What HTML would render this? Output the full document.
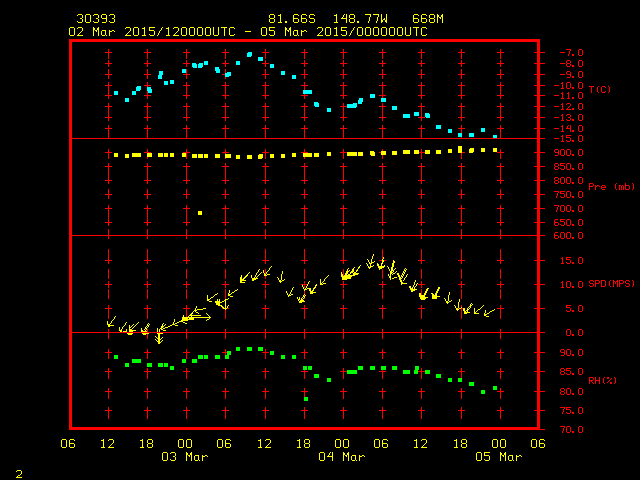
<!DOCTYPE html>
<html><head><meta charset="utf-8"><title>Meteogram 30393</title>
<style>
html,body{margin:0;padding:0;background:#000;width:640px;height:480px;overflow:hidden;}
svg{display:block;}
</style></head>
<body>
<svg width="640" height="480" viewBox="0 0 640 480" shape-rendering="crispEdges">
<rect x="0" y="0" width="640" height="480" fill="#000"/>
<path fill="#ff0000" d="M69 39h471v3h-471zM579 49h3v1h-3zM566 49h5v1h-5zM570 50h1v1h-1zM537 42h3v10h-3zM225 49h1v3h-1zM421 49h1v3h-1zM343 49h1v3h-1zM461 49h1v3h-1zM108 49h1v3h-1zM382 49h1v3h-1zM500 49h1v3h-1zM147 49h1v3h-1zM186 49h1v3h-1zM265 49h1v3h-1zM304 49h1v3h-1zM458 52h7v1h-7zM534 52h11v1h-11zM301 52h7v1h-7zM379 52h7v1h-7zM222 52h7v1h-7zM418 52h7v1h-7zM497 52h7v1h-7zM144 52h7v1h-7zM340 52h7v1h-7zM183 52h7v1h-7zM262 52h7v1h-7zM105 52h7v1h-7zM560 52h5v1h-5zM569 51h1v3h-1zM582 50h1v5h-1zM578 50h1v5h-1zM572 54h2v2h-2zM568 54h1v2h-1zM579 55h3v1h-3zM225 53h1v6h-1zM421 53h1v6h-1zM343 53h1v6h-1zM461 53h1v6h-1zM108 53h1v6h-1zM382 53h1v6h-1zM500 53h1v6h-1zM147 53h1v6h-1zM186 53h1v6h-1zM265 53h1v6h-1zM304 53h1v6h-1zM579 60h3v1h-3zM567 60h3v1h-3zM537 53h3v10h-3zM225 60h1v3h-1zM421 60h1v3h-1zM343 60h1v3h-1zM461 60h1v3h-1zM108 60h1v3h-1zM382 60h1v3h-1zM500 60h1v3h-1zM147 60h1v3h-1zM186 60h1v3h-1zM265 60h1v3h-1zM304 60h1v3h-1zM570 61h1v2h-1zM566 61h1v2h-1zM458 63h7v1h-7zM534 63h11v1h-11zM301 63h7v1h-7zM379 63h7v1h-7zM222 63h7v1h-7zM418 63h7v1h-7zM567 63h3v1h-3zM497 63h7v1h-7zM144 63h7v1h-7zM340 63h7v1h-7zM183 63h7v1h-7zM262 63h7v1h-7zM105 63h7v1h-7zM560 63h5v1h-5zM582 61h1v5h-1zM578 61h1v5h-1zM570 64h1v2h-1zM566 64h1v2h-1zM225 64h1v3h-1zM421 64h1v3h-1zM343 64h1v3h-1zM461 64h1v3h-1zM108 64h1v3h-1zM382 64h1v3h-1zM500 64h1v3h-1zM147 64h1v3h-1zM186 64h1v3h-1zM265 64h1v3h-1zM304 64h1v3h-1zM572 65h2v2h-2zM579 66h3v1h-3zM567 66h3v1h-3zM579 71h3v1h-3zM567 71h3v1h-3zM225 69h1v4h-1zM537 64h3v10h-3zM421 69h1v5h-1zM343 69h1v5h-1zM461 69h1v5h-1zM108 69h1v5h-1zM382 69h1v5h-1zM500 69h1v5h-1zM147 69h1v5h-1zM186 69h1v5h-1zM265 69h1v5h-1zM304 69h1v5h-1zM570 72h1v2h-1zM566 72h1v2h-1zM567 74h4v1h-4zM458 74h7v1h-7zM534 74h11v1h-11zM301 74h7v1h-7zM379 74h7v1h-7zM418 74h7v1h-7zM497 74h7v1h-7zM144 74h7v1h-7zM105 74h7v1h-7zM183 74h7v1h-7zM340 74h7v1h-7zM262 74h7v1h-7zM222 74h3v1h-3zM560 74h5v1h-5zM582 72h1v5h-1zM578 72h1v5h-1zM570 75h1v2h-1zM572 76h2v2h-2zM579 77h3v1h-3zM567 77h3v1h-3zM421 75h1v4h-1zM343 75h1v4h-1zM461 75h1v4h-1zM108 75h1v4h-1zM382 75h1v4h-1zM500 75h1v4h-1zM147 75h1v4h-1zM186 75h1v4h-1zM265 75h1v4h-1zM304 75h1v4h-1zM225 77h1v2h-1zM579 82h3v1h-3zM567 82h3v1h-3zM562 82h1v1h-1zM561 83h2v1h-2zM537 75h3v10h-3zM225 82h1v3h-1zM421 82h1v3h-1zM343 82h1v3h-1zM461 82h1v3h-1zM108 82h1v3h-1zM382 82h1v3h-1zM500 82h1v3h-1zM147 82h1v3h-1zM186 82h1v3h-1zM265 82h1v3h-1zM304 82h1v3h-1zM222 85h7v1h-7zM497 85h7v1h-7zM144 85h7v1h-7zM554 85h5v1h-5zM379 85h7v1h-7zM301 85h7v1h-7zM458 85h7v1h-7zM183 85h7v1h-7zM105 85h7v1h-7zM534 85h11v1h-11zM418 85h7v1h-7zM340 85h7v1h-7zM262 85h7v1h-7zM608 86h1v1h-1zM602 86h3v1h-3zM147 86h1v1h-1zM589 86h5v1h-5zM598 86h1v1h-1zM570 83h1v5h-1zM582 83h1v5h-1zM566 83h1v5h-1zM578 83h1v5h-1zM562 84h1v4h-1zM605 87h1v1h-1zM572 87h2v2h-2zM579 88h3v1h-3zM561 88h3v1h-3zM567 88h3v1h-3zM304 86h1v4h-1zM609 87h1v5h-1zM601 87h1v5h-1zM597 87h1v5h-1zM605 91h1v1h-1zM591 87h1v6h-1zM562 92h1v1h-1zM579 92h3v1h-3zM608 92h1v1h-1zM602 92h3v1h-3zM568 92h1v1h-1zM598 92h1v1h-1zM561 93h2v1h-2zM567 93h2v1h-2zM537 86h3v9h-3zM186 86h1v9h-1zM461 86h1v9h-1zM108 86h1v9h-1zM265 86h1v9h-1zM421 86h1v9h-1zM343 86h1v9h-1zM500 86h1v9h-1zM225 86h1v9h-1zM382 86h1v9h-1zM147 91h1v4h-1zM304 94h1v1h-1zM458 95h7v1h-7zM534 95h11v1h-11zM301 95h7v1h-7zM379 95h7v1h-7zM222 95h7v1h-7zM418 95h7v1h-7zM554 95h5v1h-5zM497 95h7v1h-7zM144 95h7v1h-7zM340 95h7v1h-7zM183 95h7v1h-7zM262 95h7v1h-7zM105 95h7v1h-7zM582 93h1v5h-1zM578 93h1v5h-1zM568 94h1v4h-1zM562 94h1v4h-1zM382 96h1v2h-1zM225 96h1v3h-1zM421 96h1v3h-1zM343 96h1v3h-1zM461 96h1v3h-1zM108 96h1v3h-1zM500 96h1v3h-1zM147 96h1v3h-1zM186 96h1v3h-1zM265 96h1v3h-1zM304 96h1v3h-1zM572 97h2v2h-2zM561 98h3v1h-3zM579 98h3v1h-3zM567 98h3v1h-3zM579 103h3v1h-3zM567 103h3v1h-3zM562 103h1v1h-1zM566 104h1v1h-1zM561 104h2v1h-2zM537 96h3v10h-3zM225 103h1v3h-1zM421 103h1v3h-1zM343 103h1v3h-1zM461 103h1v3h-1zM108 103h1v3h-1zM382 103h1v3h-1zM500 103h1v3h-1zM147 103h1v3h-1zM186 103h1v3h-1zM265 103h1v3h-1zM304 103h1v3h-1zM570 104h1v2h-1zM458 106h7v1h-7zM534 106h11v1h-11zM301 106h7v1h-7zM379 106h7v1h-7zM222 106h7v1h-7zM418 106h7v1h-7zM554 106h5v1h-5zM497 106h7v1h-7zM144 106h7v1h-7zM340 106h7v1h-7zM183 106h7v1h-7zM262 106h7v1h-7zM569 106h1v1h-1zM105 106h7v1h-7zM568 107h1v1h-1zM582 104h1v5h-1zM578 104h1v5h-1zM562 105h1v4h-1zM567 108h1v1h-1zM572 108h2v2h-2zM561 109h3v1h-3zM579 109h3v1h-3zM566 109h5v1h-5zM579 114h3v1h-3zM567 114h3v1h-3zM562 114h1v1h-1zM566 115h1v1h-1zM561 115h2v1h-2zM225 107h1v10h-1zM421 107h1v10h-1zM343 107h1v10h-1zM461 107h1v10h-1zM108 107h1v10h-1zM382 107h1v10h-1zM537 107h3v10h-3zM500 107h1v10h-1zM147 107h1v10h-1zM186 107h1v10h-1zM265 107h1v10h-1zM304 107h1v10h-1zM570 115h1v2h-1zM568 117h2v1h-2zM458 117h7v1h-7zM534 117h11v1h-11zM301 117h7v1h-7zM379 117h7v1h-7zM222 117h7v1h-7zM418 117h7v1h-7zM554 117h5v1h-5zM497 117h7v1h-7zM144 117h7v1h-7zM340 117h7v1h-7zM183 117h7v1h-7zM262 117h7v1h-7zM105 117h7v1h-7zM582 115h1v5h-1zM578 115h1v5h-1zM562 116h1v4h-1zM570 118h1v2h-1zM566 119h1v1h-1zM225 118h1v3h-1zM421 118h1v3h-1zM343 118h1v3h-1zM461 118h1v3h-1zM108 118h1v3h-1zM382 118h1v3h-1zM500 118h1v3h-1zM147 118h1v3h-1zM186 118h1v3h-1zM265 118h1v3h-1zM304 118h1v3h-1zM572 119h2v2h-2zM561 120h3v1h-3zM579 120h3v1h-3zM567 120h3v1h-3zM579 125h3v1h-3zM568 125h1v1h-1zM562 125h1v1h-1zM561 126h2v1h-2zM537 118h3v10h-3zM570 125h1v3h-1zM225 125h1v3h-1zM421 125h1v3h-1zM343 125h1v3h-1zM461 125h1v3h-1zM108 125h1v3h-1zM382 125h1v3h-1zM500 125h1v3h-1zM147 125h1v3h-1zM186 125h1v3h-1zM265 125h1v3h-1zM304 125h1v3h-1zM567 126h1v2h-1zM458 128h7v1h-7zM534 128h11v1h-11zM301 128h7v1h-7zM379 128h7v1h-7zM222 128h7v1h-7zM418 128h7v1h-7zM554 128h5v1h-5zM497 128h7v1h-7zM144 128h7v1h-7zM340 128h7v1h-7zM183 128h7v1h-7zM262 128h7v1h-7zM105 128h7v1h-7zM566 128h5v1h-5zM582 126h1v5h-1zM578 126h1v5h-1zM562 127h1v4h-1zM570 129h1v3h-1zM572 130h2v2h-2zM561 131h3v1h-3zM579 131h3v1h-3zM461 129h1v4h-1zM579 135h3v1h-3zM562 135h1v1h-1zM566 135h5v1h-5zM566 136h1v1h-1zM561 136h2v1h-2zM69 42h3v96h-3zM225 129h1v9h-1zM421 129h1v9h-1zM343 129h1v9h-1zM108 129h1v9h-1zM382 129h1v9h-1zM537 129h3v9h-3zM500 129h1v9h-1zM147 129h1v9h-1zM186 129h1v9h-1zM265 129h1v9h-1zM304 129h1v9h-1zM566 137h4v1h-4zM461 137h1v1h-1zM69 138h476v1h-476zM554 138h5v1h-5zM582 136h1v5h-1zM578 136h1v5h-1zM562 137h1v4h-1zM570 138h1v3h-1zM566 140h1v1h-1zM572 140h2v2h-2zM561 141h3v1h-3zM567 141h3v1h-3zM579 141h3v1h-3zM555 149h3v1h-3zM561 149h3v1h-3zM579 149h3v1h-3zM567 149h3v1h-3zM382 149h1v2h-1zM537 139h3v13h-3zM225 149h1v3h-1zM421 149h1v3h-1zM343 149h1v3h-1zM108 149h1v3h-1zM500 149h1v3h-1zM147 149h1v3h-1zM186 149h1v3h-1zM265 149h1v3h-1zM304 149h1v3h-1zM558 150h1v2h-1zM554 150h1v2h-1zM379 152h2v1h-2zM222 152h7v1h-7zM497 152h7v1h-7zM144 152h7v1h-7zM419 152h6v1h-6zM301 152h7v1h-7zM183 152h7v1h-7zM105 152h7v1h-7zM555 152h4v1h-4zM462 152h3v1h-3zM534 152h11v1h-11zM340 152h7v1h-7zM262 152h7v1h-7zM225 153h1v1h-1zM570 150h1v5h-1zM566 150h1v5h-1zM582 150h1v5h-1zM578 150h1v5h-1zM564 150h1v5h-1zM560 150h1v5h-1zM558 153h1v2h-1zM572 154h2v2h-2zM555 155h3v1h-3zM561 155h3v1h-3zM579 155h3v1h-3zM567 155h3v1h-3zM421 153h1v6h-1zM343 153h1v6h-1zM461 153h1v6h-1zM108 153h1v6h-1zM500 153h1v6h-1zM186 153h1v6h-1zM265 153h1v6h-1zM382 155h1v4h-1zM147 157h1v2h-1zM304 157h1v2h-1zM225 158h1v1h-1zM555 163h3v1h-3zM579 163h3v1h-3zM567 163h3v1h-3zM560 163h5v1h-5zM560 164h1v1h-1zM537 153h3v13h-3zM225 163h1v3h-1zM421 163h1v3h-1zM343 163h1v3h-1zM461 163h1v3h-1zM108 163h1v3h-1zM382 163h1v3h-1zM500 163h1v3h-1zM147 163h1v3h-1zM186 163h1v3h-1zM265 163h1v3h-1zM304 163h1v3h-1zM558 164h1v2h-1zM554 164h1v2h-1zM560 165h4v1h-4zM555 166h3v1h-3zM222 166h7v1h-7zM497 166h7v1h-7zM144 166h7v1h-7zM379 166h7v1h-7zM301 166h7v1h-7zM458 166h7v1h-7zM183 166h7v1h-7zM105 166h7v1h-7zM534 166h11v1h-11zM418 166h7v1h-7zM340 166h7v1h-7zM262 166h7v1h-7zM570 164h1v5h-1zM566 164h1v5h-1zM582 164h1v5h-1zM578 164h1v5h-1zM564 166h1v3h-1zM558 167h1v2h-1zM554 167h1v2h-1zM560 168h1v1h-1zM572 168h2v2h-2zM555 169h3v1h-3zM561 169h3v1h-3zM579 169h3v1h-3zM567 169h3v1h-3zM555 177h3v1h-3zM561 177h3v1h-3zM579 177h3v1h-3zM567 177h3v1h-3zM537 167h3v13h-3zM186 167h1v13h-1zM461 167h1v13h-1zM108 167h1v13h-1zM265 167h1v13h-1zM421 167h1v13h-1zM343 167h1v13h-1zM500 167h1v13h-1zM147 167h1v13h-1zM225 167h1v13h-1zM382 167h1v13h-1zM304 167h1v13h-1zM558 178h1v2h-1zM554 178h1v2h-1zM555 180h3v1h-3zM222 180h7v1h-7zM497 180h7v1h-7zM144 180h7v1h-7zM379 180h7v1h-7zM301 180h7v1h-7zM458 180h7v1h-7zM183 180h7v1h-7zM105 180h7v1h-7zM534 180h11v1h-11zM418 180h7v1h-7zM340 180h7v1h-7zM262 180h7v1h-7zM570 178h1v5h-1zM566 178h1v5h-1zM582 178h1v5h-1zM578 178h1v5h-1zM564 178h1v5h-1zM560 178h1v5h-1zM558 181h1v2h-1zM554 181h1v2h-1zM186 181h1v3h-1zM461 181h1v3h-1zM108 181h1v3h-1zM265 181h1v3h-1zM421 181h1v3h-1zM343 181h1v3h-1zM500 181h1v3h-1zM147 181h1v3h-1zM225 181h1v3h-1zM382 181h1v3h-1zM304 181h1v3h-1zM572 182h2v2h-2zM555 183h3v1h-3zM589 183h4v1h-4zM579 183h3v1h-3zM561 183h3v1h-3zM632 183h1v1h-1zM567 183h3v1h-3zM616 183h1v1h-1zM625 183h1v2h-1zM593 184h1v2h-1zM589 184h1v2h-1zM625 185h4v1h-4zM597 185h2v1h-2zM602 185h3v1h-3zM595 185h1v1h-1zM622 185h1v1h-1zM619 185h2v1h-2zM601 186h1v1h-1zM605 186h1v1h-1zM589 186h4v1h-4zM595 186h2v1h-2zM599 186h1v1h-1zM601 187h5v1h-5zM633 184h1v5h-1zM615 184h1v5h-1zM629 186h1v3h-1zM625 186h1v3h-1zM601 188h1v1h-1zM621 186h1v4h-1zM623 186h1v4h-1zM619 186h1v4h-1zM595 187h1v3h-1zM589 187h1v3h-1zM602 189h3v1h-3zM632 189h1v1h-1zM616 189h1v1h-1zM625 189h4v1h-4zM579 191h3v1h-3zM567 191h3v1h-3zM554 191h5v1h-5zM560 191h5v1h-5zM558 192h1v1h-1zM560 192h1v1h-1zM537 181h3v13h-3zM186 189h1v5h-1zM461 189h1v5h-1zM108 189h1v5h-1zM265 189h1v5h-1zM421 189h1v5h-1zM343 189h1v5h-1zM500 189h1v5h-1zM147 189h1v5h-1zM225 189h1v5h-1zM382 189h1v5h-1zM304 189h1v5h-1zM560 193h4v1h-4zM222 194h7v1h-7zM497 194h7v1h-7zM144 194h7v1h-7zM379 194h7v1h-7zM301 194h7v1h-7zM458 194h7v1h-7zM183 194h7v1h-7zM105 194h7v1h-7zM534 194h11v1h-11zM418 194h7v1h-7zM340 194h7v1h-7zM262 194h7v1h-7zM557 193h1v3h-1zM570 192h1v5h-1zM566 192h1v5h-1zM582 192h1v5h-1zM578 192h1v5h-1zM564 194h1v3h-1zM560 196h1v1h-1zM572 196h2v2h-2zM556 196h1v2h-1zM561 197h3v1h-3zM579 197h3v1h-3zM567 197h3v1h-3zM186 195h1v4h-1zM461 195h1v4h-1zM108 195h1v4h-1zM265 195h1v4h-1zM421 195h1v4h-1zM343 195h1v4h-1zM500 195h1v4h-1zM147 195h1v4h-1zM225 195h1v4h-1zM382 195h1v4h-1zM304 195h1v4h-1zM561 205h3v1h-3zM579 205h3v1h-3zM567 205h3v1h-3zM554 205h5v1h-5zM558 206h1v1h-1zM537 195h3v13h-3zM225 205h1v3h-1zM421 205h1v3h-1zM343 205h1v3h-1zM461 205h1v3h-1zM108 205h1v3h-1zM382 205h1v3h-1zM500 205h1v3h-1zM147 205h1v3h-1zM186 205h1v3h-1zM265 205h1v3h-1zM304 205h1v3h-1zM222 208h7v1h-7zM497 208h7v1h-7zM144 208h7v1h-7zM379 208h7v1h-7zM301 208h7v1h-7zM458 208h7v1h-7zM183 208h7v1h-7zM105 208h7v1h-7zM534 208h11v1h-11zM418 208h7v1h-7zM340 208h7v1h-7zM262 208h7v1h-7zM557 207h1v3h-1zM570 206h1v5h-1zM566 206h1v5h-1zM582 206h1v5h-1zM578 206h1v5h-1zM564 206h1v5h-1zM560 206h1v5h-1zM572 210h2v2h-2zM556 210h1v2h-1zM561 211h3v1h-3zM579 211h3v1h-3zM567 211h3v1h-3zM555 219h3v1h-3zM579 219h3v1h-3zM567 219h3v1h-3zM560 219h5v1h-5zM560 220h1v1h-1zM537 209h3v13h-3zM186 209h1v13h-1zM461 209h1v13h-1zM108 209h1v13h-1zM265 209h1v13h-1zM421 209h1v13h-1zM343 209h1v13h-1zM500 209h1v13h-1zM147 209h1v13h-1zM225 209h1v13h-1zM382 209h1v13h-1zM304 209h1v13h-1zM554 220h1v2h-1zM560 221h4v1h-4zM222 222h7v1h-7zM497 222h7v1h-7zM144 222h7v1h-7zM379 222h7v1h-7zM301 222h7v1h-7zM554 222h4v1h-4zM458 222h7v1h-7zM183 222h7v1h-7zM105 222h7v1h-7zM534 222h11v1h-11zM418 222h7v1h-7zM340 222h7v1h-7zM262 222h7v1h-7zM570 220h1v5h-1zM566 220h1v5h-1zM582 220h1v5h-1zM578 220h1v5h-1zM564 222h1v3h-1zM558 223h1v2h-1zM554 223h1v2h-1zM560 224h1v1h-1zM186 223h1v3h-1zM461 223h1v3h-1zM108 223h1v3h-1zM265 223h1v3h-1zM421 223h1v3h-1zM343 223h1v3h-1zM500 223h1v3h-1zM147 223h1v3h-1zM225 223h1v3h-1zM382 223h1v3h-1zM304 223h1v3h-1zM572 224h2v2h-2zM555 225h3v1h-3zM561 225h3v1h-3zM579 225h3v1h-3zM567 225h3v1h-3zM555 232h3v1h-3zM561 232h3v1h-3zM579 232h3v1h-3zM567 232h3v1h-3zM69 139h3v96h-3zM537 223h3v12h-3zM225 229h1v6h-1zM421 229h1v6h-1zM343 229h1v6h-1zM461 229h1v6h-1zM108 229h1v6h-1zM382 229h1v6h-1zM500 229h1v6h-1zM147 229h1v6h-1zM186 229h1v6h-1zM265 229h1v6h-1zM304 229h1v6h-1zM554 233h1v2h-1zM69 235h476v1h-476zM554 235h4v1h-4zM570 233h1v5h-1zM566 233h1v5h-1zM582 233h1v5h-1zM578 233h1v5h-1zM564 233h1v5h-1zM560 233h1v5h-1zM558 236h1v2h-1zM554 236h1v2h-1zM186 236h1v3h-1zM461 236h1v3h-1zM108 236h1v3h-1zM265 236h1v3h-1zM421 236h1v3h-1zM343 236h1v3h-1zM500 236h1v3h-1zM147 236h1v3h-1zM225 236h1v3h-1zM382 236h1v3h-1zM304 236h1v3h-1zM572 237h2v2h-2zM555 238h3v1h-3zM561 238h3v1h-3zM579 238h3v1h-3zM567 238h3v1h-3zM579 257h3v1h-3zM562 257h1v1h-1zM566 257h5v1h-5zM382 249h1v10h-1zM566 258h1v1h-1zM561 258h2v1h-2zM537 236h3v24h-3zM225 249h1v11h-1zM421 249h1v11h-1zM343 249h1v11h-1zM461 249h1v11h-1zM108 249h1v11h-1zM500 249h1v11h-1zM147 249h1v11h-1zM186 249h1v11h-1zM265 249h1v11h-1zM304 249h1v11h-1zM566 259h4v1h-4zM458 260h7v1h-7zM534 260h11v1h-11zM301 260h7v1h-7zM384 260h2v1h-2zM222 260h7v1h-7zM418 260h7v1h-7zM497 260h7v1h-7zM144 260h7v1h-7zM340 260h7v1h-7zM183 260h7v1h-7zM262 260h7v1h-7zM379 260h3v1h-3zM105 260h7v1h-7zM582 258h1v5h-1zM578 258h1v5h-1zM562 259h1v4h-1zM570 260h1v3h-1zM566 262h1v1h-1zM225 261h1v3h-1zM421 261h1v3h-1zM343 261h1v3h-1zM461 261h1v3h-1zM108 261h1v3h-1zM500 261h1v3h-1zM147 261h1v3h-1zM186 261h1v3h-1zM265 261h1v3h-1zM304 261h1v3h-1zM572 262h2v2h-2zM561 263h3v1h-3zM579 263h3v1h-3zM567 263h3v1h-3zM265 269h1v5h-1zM343 269h1v7h-1zM225 269h1v10h-1zM421 269h1v10h-1zM461 269h1v10h-1zM108 269h1v10h-1zM382 269h1v10h-1zM500 269h1v10h-1zM147 269h1v10h-1zM186 269h1v10h-1zM304 269h1v10h-1zM265 276h1v3h-1zM626 280h3v1h-3zM619 280h4v1h-4zM601 280h4v1h-4zM610 280h1v1h-1zM590 280h3v1h-3zM595 280h4v1h-4zM613 280h1v1h-1zM617 280h1v1h-1zM632 280h1v1h-1zM613 281h2v1h-2zM562 281h1v1h-1zM579 281h3v1h-3zM616 281h2v1h-2zM567 281h3v1h-3zM629 281h1v1h-1zM593 281h1v1h-1zM589 281h1v2h-1zM599 281h1v2h-1zM595 281h1v2h-1zM623 281h1v2h-1zM619 281h1v2h-1zM625 281h1v2h-1zM561 282h2v1h-2zM537 261h3v23h-3zM186 281h1v3h-1zM461 281h1v3h-1zM108 281h1v3h-1zM265 281h1v3h-1zM421 281h1v3h-1zM343 281h1v3h-1zM500 281h1v3h-1zM147 281h1v3h-1zM225 281h1v3h-1zM382 281h1v3h-1zM304 281h1v3h-1zM615 282h1v2h-1zM595 283h4v1h-4zM626 283h3v1h-3zM619 283h4v1h-4zM590 283h3v1h-3zM222 284h7v1h-7zM497 284h7v1h-7zM144 284h7v1h-7zM379 284h7v1h-7zM458 284h7v1h-7zM183 284h7v1h-7zM105 284h7v1h-7zM301 284h6v1h-6zM534 284h11v1h-11zM418 284h7v1h-7zM340 284h7v1h-7zM262 284h7v1h-7zM609 281h1v5h-1zM605 281h1v5h-1zM633 281h1v5h-1zM601 281h1v5h-1zM629 284h1v2h-1zM593 284h1v2h-1zM589 285h1v1h-1zM625 285h1v1h-1zM570 282h1v5h-1zM566 282h1v5h-1zM617 282h1v5h-1zM613 282h1v5h-1zM582 282h1v5h-1zM578 282h1v5h-1zM562 283h1v4h-1zM595 284h1v3h-1zM619 284h1v3h-1zM632 286h1v1h-1zM626 286h3v1h-3zM590 286h3v1h-3zM601 286h4v1h-4zM610 286h1v1h-1zM186 285h1v3h-1zM461 285h1v3h-1zM108 285h1v3h-1zM265 285h1v3h-1zM421 285h1v3h-1zM343 285h1v3h-1zM500 285h1v3h-1zM147 285h1v3h-1zM225 285h1v3h-1zM382 285h1v3h-1zM304 285h1v3h-1zM572 286h2v2h-2zM561 287h3v1h-3zM579 287h3v1h-3zM567 287h3v1h-3zM304 291h1v3h-1zM421 289h1v6h-1zM304 295h1v1h-1zM225 289h1v10h-1zM343 289h1v10h-1zM461 289h1v10h-1zM108 289h1v10h-1zM382 289h1v10h-1zM500 289h1v10h-1zM147 289h1v10h-1zM186 289h1v10h-1zM265 289h1v10h-1zM304 298h1v1h-1zM579 305h3v1h-3zM566 305h5v1h-5zM461 305h1v2h-1zM566 306h1v1h-1zM537 285h3v23h-3zM421 305h1v3h-1zM343 305h1v3h-1zM108 305h1v3h-1zM382 305h1v3h-1zM500 305h1v3h-1zM147 305h1v3h-1zM186 305h1v3h-1zM265 305h1v3h-1zM304 305h1v3h-1zM566 307h4v1h-4zM534 308h11v1h-11zM301 308h7v1h-7zM222 308h1v1h-1zM227 308h2v1h-2zM379 308h7v1h-7zM418 308h7v1h-7zM461 308h2v1h-2zM144 308h7v1h-7zM340 308h7v1h-7zM183 308h7v1h-7zM497 308h7v1h-7zM262 308h7v1h-7zM105 308h7v1h-7zM458 308h1v1h-1zM582 306h1v5h-1zM578 306h1v5h-1zM570 308h1v3h-1zM566 310h1v1h-1zM572 310h2v2h-2zM579 311h3v1h-3zM567 311h3v1h-3zM186 309h1v8h-1zM421 309h1v10h-1zM343 309h1v10h-1zM461 309h1v10h-1zM108 309h1v10h-1zM382 309h1v10h-1zM500 309h1v10h-1zM147 309h1v10h-1zM265 309h1v10h-1zM304 309h1v10h-1zM225 310h1v9h-1zM579 329h3v1h-3zM567 329h3v1h-3zM69 236h3v96h-3zM537 309h3v23h-3zM225 329h1v3h-1zM421 329h1v3h-1zM343 329h1v3h-1zM461 329h1v3h-1zM108 329h1v3h-1zM382 329h1v3h-1zM500 329h1v3h-1zM147 329h1v3h-1zM186 329h1v3h-1zM265 329h1v3h-1zM304 329h1v3h-1zM69 332h476v1h-476zM570 330h1v5h-1zM582 330h1v5h-1zM566 330h1v5h-1zM578 330h1v5h-1zM572 334h2v2h-2zM579 335h3v1h-3zM567 335h3v1h-3zM225 333h1v6h-1zM421 333h1v6h-1zM343 333h1v6h-1zM461 333h1v6h-1zM108 333h1v6h-1zM382 333h1v6h-1zM500 333h1v6h-1zM186 333h1v6h-1zM265 333h1v6h-1zM304 333h1v6h-1zM147 334h1v5h-1zM561 349h3v1h-3zM579 349h3v1h-3zM567 349h3v1h-3zM537 333h3v19h-3zM225 349h1v3h-1zM421 349h1v3h-1zM343 349h1v3h-1zM461 349h1v3h-1zM108 349h1v3h-1zM382 349h1v3h-1zM500 349h1v3h-1zM147 349h1v3h-1zM186 349h1v3h-1zM265 349h1v3h-1zM304 349h1v3h-1zM564 350h1v2h-1zM560 350h1v2h-1zM222 352h5v1h-5zM458 352h7v1h-7zM534 352h11v1h-11zM301 352h7v1h-7zM379 352h7v1h-7zM418 352h7v1h-7zM497 352h7v1h-7zM144 352h7v1h-7zM340 352h7v1h-7zM183 352h7v1h-7zM262 352h7v1h-7zM105 352h7v1h-7zM561 352h4v1h-4zM570 350h1v5h-1zM566 350h1v5h-1zM582 350h1v5h-1zM578 350h1v5h-1zM225 353h1v2h-1zM564 353h1v2h-1zM572 354h2v2h-2zM561 355h3v1h-3zM579 355h3v1h-3zM567 355h3v1h-3zM421 353h1v6h-1zM343 353h1v6h-1zM461 353h1v6h-1zM108 353h1v6h-1zM382 353h1v6h-1zM500 353h1v6h-1zM147 353h1v6h-1zM186 353h1v6h-1zM265 353h1v6h-1zM304 353h1v6h-1zM561 368h3v1h-3zM579 368h3v1h-3zM566 368h5v1h-5zM566 369h1v1h-1zM537 353h3v18h-3zM225 368h1v3h-1zM421 368h1v3h-1zM343 368h1v3h-1zM461 368h1v3h-1zM108 368h1v3h-1zM500 368h1v3h-1zM147 368h1v3h-1zM186 368h1v3h-1zM265 368h1v3h-1zM560 369h1v2h-1zM564 369h1v2h-1zM566 370h4v1h-4zM382 370h1v1h-1zM304 370h1v1h-1zM561 371h3v1h-3zM458 371h7v1h-7zM534 371h11v1h-11zM301 371h7v1h-7zM379 371h7v1h-7zM222 371h7v1h-7zM418 371h7v1h-7zM497 371h7v1h-7zM144 371h7v1h-7zM340 371h7v1h-7zM183 371h7v1h-7zM262 371h7v1h-7zM105 371h7v1h-7zM582 369h1v5h-1zM578 369h1v5h-1zM570 371h1v3h-1zM560 372h1v2h-1zM564 372h1v2h-1zM566 373h1v1h-1zM572 373h2v2h-2zM561 374h3v1h-3zM579 374h3v1h-3zM567 374h3v1h-3zM461 372h1v6h-1zM589 377h4v1h-4zM604 377h1v1h-1zM614 377h1v1h-1zM225 372h1v7h-1zM421 372h1v7h-1zM343 372h1v7h-1zM108 372h1v7h-1zM382 372h1v7h-1zM500 372h1v7h-1zM147 372h1v7h-1zM186 372h1v7h-1zM265 372h1v7h-1zM304 372h1v7h-1zM607 377h2v2h-2zM611 378h1v1h-1zM599 377h1v3h-1zM595 377h1v3h-1zM589 378h1v2h-1zM593 378h1v2h-1zM610 379h1v1h-1zM595 380h5v1h-5zM589 380h4v1h-4zM609 380h1v1h-1zM608 381h1v1h-1zM591 381h1v1h-1zM603 378h1v5h-1zM615 378h1v5h-1zM592 382h1v1h-1zM607 382h1v1h-1zM595 381h1v3h-1zM589 381h1v3h-1zM599 381h1v3h-1zM610 382h2v2h-2zM614 383h1v1h-1zM604 383h1v1h-1zM593 383h1v1h-1zM561 388h3v1h-3zM579 388h3v1h-3zM567 388h3v1h-3zM537 372h3v19h-3zM225 388h1v3h-1zM421 388h1v3h-1zM343 388h1v3h-1zM461 388h1v3h-1zM108 388h1v3h-1zM382 388h1v3h-1zM500 388h1v3h-1zM147 388h1v3h-1zM186 388h1v3h-1zM265 388h1v3h-1zM304 388h1v3h-1zM564 389h1v2h-1zM560 389h1v2h-1zM561 391h3v1h-3zM458 391h7v1h-7zM534 391h11v1h-11zM301 391h7v1h-7zM379 391h7v1h-7zM222 391h7v1h-7zM418 391h7v1h-7zM497 391h7v1h-7zM144 391h7v1h-7zM340 391h7v1h-7zM183 391h7v1h-7zM262 391h7v1h-7zM105 391h7v1h-7zM570 389h1v5h-1zM566 389h1v5h-1zM582 389h1v5h-1zM578 389h1v5h-1zM564 392h1v2h-1zM560 392h1v2h-1zM572 393h2v2h-2zM561 394h3v1h-3zM579 394h3v1h-3zM567 394h3v1h-3zM304 392h1v5h-1zM186 392h1v7h-1zM461 392h1v7h-1zM108 392h1v7h-1zM265 392h1v7h-1zM421 392h1v7h-1zM343 392h1v7h-1zM500 392h1v7h-1zM147 392h1v7h-1zM225 392h1v7h-1zM382 392h1v7h-1zM579 407h3v1h-3zM560 407h5v1h-5zM566 407h5v1h-5zM566 408h1v1h-1zM564 408h1v1h-1zM537 392h3v18h-3zM225 407h1v3h-1zM421 407h1v3h-1zM343 407h1v3h-1zM461 407h1v3h-1zM108 407h1v3h-1zM382 407h1v3h-1zM500 407h1v3h-1zM147 407h1v3h-1zM186 407h1v3h-1zM265 407h1v3h-1zM304 407h1v3h-1zM566 409h4v1h-4zM458 410h7v1h-7zM534 410h11v1h-11zM301 410h7v1h-7zM379 410h7v1h-7zM222 410h7v1h-7zM418 410h7v1h-7zM497 410h7v1h-7zM144 410h7v1h-7zM340 410h7v1h-7zM183 410h7v1h-7zM262 410h7v1h-7zM105 410h7v1h-7zM563 409h1v3h-1zM582 408h1v5h-1zM578 408h1v5h-1zM570 410h1v3h-1zM566 412h1v1h-1zM572 412h2v2h-2zM562 412h1v2h-1zM579 413h3v1h-3zM567 413h3v1h-3zM225 411h1v8h-1zM421 411h1v8h-1zM343 411h1v8h-1zM461 411h1v8h-1zM108 411h1v8h-1zM382 411h1v8h-1zM500 411h1v8h-1zM147 411h1v8h-1zM186 411h1v8h-1zM265 411h1v8h-1zM304 411h1v8h-1zM69 333h3v94h-3zM537 411h3v16h-3zM567 426h3v1h-3zM579 426h3v1h-3zM560 426h5v1h-5zM564 427h1v1h-1zM69 427h471v2h-471zM69 429h476v1h-476zM563 428h1v3h-1zM570 427h1v5h-1zM582 427h1v5h-1zM566 427h1v5h-1zM578 427h1v5h-1zM572 431h2v2h-2zM562 431h1v2h-1zM579 432h3v1h-3zM567 432h3v1h-3z"/>
<path fill="#ffff00" d="M350 14h4v1h-4zM414 14h4v1h-4zM442 14h1v1h-1zM373 14h6v1h-6zM310 14h4v1h-4zM94 14h4v1h-4zM302 14h4v1h-4zM86 14h4v1h-4zM430 14h4v1h-4zM270 14h4v1h-4zM365 14h6v1h-6zM110 14h4v1h-4zM344 14h1v1h-1zM422 14h4v1h-4zM280 14h1v1h-1zM78 14h4v1h-4zM294 14h4v1h-4zM437 14h1v1h-1zM102 14h4v1h-4zM336 14h1v1h-1zM314 15h1v1h-1zM306 15h1v1h-1zM77 15h1v1h-1zM109 15h1v1h-1zM278 15h3v1h-3zM298 15h1v1h-1zM426 15h1v1h-1zM418 15h1v1h-1zM93 15h1v1h-1zM334 15h3v1h-3zM378 15h1v2h-1zM370 15h1v2h-1zM441 15h2v2h-2zM343 15h1v2h-1zM437 15h2v2h-2zM346 14h1v4h-1zM98 15h1v3h-1zM309 15h1v3h-1zM429 15h1v3h-1zM434 15h1v3h-1zM301 15h1v3h-1zM269 15h1v3h-1zM114 15h1v3h-1zM274 15h1v3h-1zM293 15h1v3h-1zM421 15h1v3h-1zM82 15h1v3h-1zM349 15h1v3h-1zM413 15h1v3h-1zM101 15h1v3h-1zM354 15h1v3h-1zM106 15h1v3h-1zM439 17h2v1h-2zM342 17h1v1h-1zM301 18h5v1h-5zM350 18h4v1h-4zM421 18h5v1h-5zM293 18h5v1h-5zM310 18h4v1h-4zM96 18h2v1h-2zM341 18h6v1h-6zM413 18h5v1h-5zM384 18h1v1h-1zM430 18h4v1h-4zM270 18h4v1h-4zM440 18h1v1h-1zM102 18h5v1h-5zM112 18h2v1h-2zM80 18h2v1h-2zM381 14h1v6h-1zM386 14h1v6h-1zM383 19h2v1h-2zM369 17h1v4h-1zM377 17h1v4h-1zM85 15h1v7h-1zM90 15h1v7h-1zM280 16h1v6h-1zM336 16h1v6h-1zM98 19h1v3h-1zM314 19h1v3h-1zM429 19h1v3h-1zM434 19h1v3h-1zM306 19h1v3h-1zM301 19h1v3h-1zM269 19h1v3h-1zM114 19h1v3h-1zM274 19h1v3h-1zM293 19h1v3h-1zM421 19h1v3h-1zM298 19h1v3h-1zM82 19h1v3h-1zM426 19h1v3h-1zM349 19h1v3h-1zM413 19h1v3h-1zM354 19h1v3h-1zM418 19h1v3h-1zM106 19h1v3h-1zM385 20h2v2h-2zM381 20h2v2h-2zM309 21h1v1h-1zM77 21h1v1h-1zM109 21h1v1h-1zM93 21h1v1h-1zM442 17h1v6h-1zM437 17h1v6h-1zM346 19h1v4h-1zM357 21h2v2h-2zM285 21h2v2h-2zM376 21h1v2h-1zM368 21h1v2h-1zM350 22h4v1h-4zM414 22h4v1h-4zM278 22h4v1h-4zM310 22h4v1h-4zM94 22h4v1h-4zM302 22h4v1h-4zM86 22h4v1h-4zM430 22h4v1h-4zM270 22h4v1h-4zM334 22h4v1h-4zM110 22h4v1h-4zM381 22h1v1h-1zM422 22h4v1h-4zM294 22h4v1h-4zM78 22h4v1h-4zM386 22h1v1h-1zM102 22h4v1h-4zM98 27h1v1h-1zM162 27h1v1h-1zM413 27h6v1h-6zM70 27h4v1h-4zM134 27h4v1h-4zM126 27h4v1h-4zM190 27h4v1h-4zM318 27h4v1h-4zM144 27h1v1h-1zM221 27h6v1h-6zM374 27h4v1h-4zM168 27h1v1h-1zM398 27h4v1h-4zM182 27h4v1h-4zM341 27h6v1h-6zM366 27h4v1h-4zM206 27h4v1h-4zM149 27h6v1h-6zM174 27h4v1h-4zM358 27h4v1h-4zM422 27h4v1h-4zM285 27h1v1h-1zM390 27h4v1h-4zM269 27h6v1h-6zM78 27h4v1h-4zM290 27h1v1h-1zM354 27h1v1h-1zM93 27h1v1h-1zM262 27h4v1h-4zM326 27h4v1h-4zM382 27h4v1h-4zM230 27h4v1h-4zM336 27h1v1h-1zM198 27h4v1h-4zM125 28h1v1h-1zM142 28h3v1h-3zM166 28h3v1h-3zM173 28h1v1h-1zM77 28h1v1h-1zM426 28h1v1h-1zM234 28h1v1h-1zM317 28h1v1h-1zM334 28h3v1h-3zM341 28h1v2h-1zM149 28h1v2h-1zM289 28h2v2h-2zM285 28h2v2h-2zM269 28h1v2h-1zM97 28h2v2h-2zM93 28h2v2h-2zM353 28h1v2h-1zM161 28h1v2h-1zM130 28h1v3h-1zM322 28h1v3h-1zM178 28h1v3h-1zM82 28h1v3h-1zM269 30h5v1h-5zM95 30h2v1h-2zM301 30h1v1h-1zM352 30h1v1h-1zM109 30h1v1h-1zM304 30h2v1h-2zM160 30h1v1h-1zM341 30h5v1h-5zM294 30h4v1h-4zM112 30h2v1h-2zM287 30h2v1h-2zM149 30h5v1h-5zM102 30h4v1h-4zM177 31h1v1h-1zM306 31h1v1h-1zM81 31h1v1h-1zM245 31h6v1h-6zM114 31h1v1h-1zM96 31h1v1h-1zM288 31h1v1h-1zM321 31h1v1h-1zM301 31h3v1h-3zM129 31h1v1h-1zM109 31h3v1h-3zM351 31h1v2h-1zM159 31h1v2h-1zM176 32h1v1h-1zM80 32h1v1h-1zM320 32h1v1h-1zM128 32h1v1h-1zM319 33h1v1h-1zM127 33h1v1h-1zM79 33h1v1h-1zM175 33h1v1h-1zM405 27h1v8h-1zM218 27h1v8h-1zM213 27h1v8h-1zM410 27h1v8h-1zM181 28h1v7h-1zM378 28h1v7h-1zM186 28h1v7h-1zM365 28h1v7h-1zM402 28h1v7h-1zM370 28h1v7h-1zM397 28h1v7h-1zM394 28h1v7h-1zM210 28h1v7h-1zM357 28h1v7h-1zM205 28h1v7h-1zM421 28h1v7h-1zM197 28h1v7h-1zM261 28h1v7h-1zM325 28h1v7h-1zM389 28h1v7h-1zM362 28h1v7h-1zM202 28h1v7h-1zM266 28h1v7h-1zM330 28h1v7h-1zM381 28h1v7h-1zM229 28h1v7h-1zM69 28h1v7h-1zM133 28h1v7h-1zM138 28h1v7h-1zM386 28h1v7h-1zM74 28h1v7h-1zM373 28h1v7h-1zM189 28h1v7h-1zM194 28h1v7h-1zM144 29h1v6h-1zM168 29h1v6h-1zM336 29h1v6h-1zM346 31h1v4h-1zM154 31h1v4h-1zM297 31h1v4h-1zM274 31h1v4h-1zM293 31h1v4h-1zM105 31h1v4h-1zM101 31h1v4h-1zM350 33h1v2h-1zM158 33h1v2h-1zM341 34h1v1h-1zM126 34h1v1h-1zM318 34h1v1h-1zM149 34h1v1h-1zM269 34h1v1h-1zM174 34h1v1h-1zM426 34h1v1h-1zM78 34h1v1h-1zM234 34h1v1h-1zM416 28h1v8h-1zM224 28h1v8h-1zM98 30h1v6h-1zM285 30h1v6h-1zM290 30h1v6h-1zM93 30h1v6h-1zM301 32h1v4h-1zM109 32h1v4h-1zM70 35h4v1h-4zM134 35h4v1h-4zM294 35h3v1h-3zM190 35h4v1h-4zM406 35h4v1h-4zM317 35h6v1h-6zM342 35h4v1h-4zM374 35h4v1h-4zM102 35h3v1h-3zM214 35h4v1h-4zM230 35h4v1h-4zM398 35h4v1h-4zM182 35h4v1h-4zM125 35h6v1h-6zM366 35h4v1h-4zM150 35h4v1h-4zM206 35h4v1h-4zM270 35h4v1h-4zM334 35h4v1h-4zM298 35h1v1h-1zM349 35h1v1h-1zM358 35h4v1h-4zM142 35h4v1h-4zM173 35h6v1h-6zM390 35h4v1h-4zM422 35h4v1h-4zM77 35h6v1h-6zM382 35h4v1h-4zM106 35h1v1h-1zM157 35h1v1h-1zM262 35h4v1h-4zM326 35h4v1h-4zM166 35h4v1h-4zM198 35h4v1h-4zM470 148h4v1h-4zM481 148h4v4h-4zM493 148h4v4h-4zM469 149h5v3h-5zM370 151h4v1h-4zM458 146h4v7h-4zM448 149h4v4h-4zM469 152h4v1h-4zM403 150h7v4h-7zM436 150h5v4h-5zM425 150h5v4h-5zM414 150h5v4h-5zM392 151h5v4h-5zM381 151h5v4h-5zM370 152h5v3h-5zM259 154h4v1h-4zM347 152h10v4h-10zM358 152h5v4h-5zM327 152h4v4h-4zM371 155h4v1h-4zM303 153h9v4h-9zM147 153h5v4h-5zM164 153h4v4h-4zM182 153h4v4h-4zM292 153h4v4h-4zM114 153h4v4h-4zM314 153h5v4h-5zM170 153h4v4h-4zM158 153h5v4h-5zM132 153h9v4h-9zM125 154h4v4h-4zM225 154h6v4h-6zM204 154h4v4h-4zM215 154h5v4h-5zM192 154h5v4h-5zM198 154h5v4h-5zM270 154h4v4h-4zM281 154h4v4h-4zM258 155h5v3h-5zM236 155h4v4h-4zM247 155h5v4h-5zM258 158h4v1h-4zM198 211h4v4h-4zM373 254h1v2h-1zM372 256h1v3h-1zM383 257h1v2h-1zM367 259h1v1h-1zM382 259h1v1h-1zM393 260h1v1h-1zM371 259h1v3h-1zM382 260h2v2h-2zM368 260h1v2h-1zM374 261h1v1h-1zM393 261h2v2h-2zM369 262h1v1h-1zM382 262h1v1h-1zM371 262h3v1h-3zM377 263h1v1h-1zM381 263h2v1h-2zM366 263h1v1h-1zM369 263h3v1h-3zM367 264h1v2h-1zM381 264h1v2h-1zM370 264h1v2h-1zM377 264h2v2h-2zM360 265h1v1h-1zM373 265h1v1h-1zM384 265h1v1h-1zM392 263h2v4h-2zM387 266h1v1h-1zM271 266h1v1h-1zM359 266h1v1h-1zM368 266h1v1h-1zM370 266h3v1h-3zM378 266h7v1h-7zM378 267h6v1h-6zM354 267h1v1h-1zM270 267h1v1h-1zM368 267h3v1h-3zM358 267h2v1h-2zM388 267h1v2h-1zM358 268h1v1h-1zM348 268h1v1h-1zM405 268h1v1h-1zM395 268h1v1h-1zM369 268h1v1h-1zM353 268h1v1h-1zM379 268h3v1h-3zM391 267h2v3h-2zM269 268h1v2h-1zM357 269h1v1h-1zM404 269h1v1h-1zM379 269h1v1h-1zM406 269h1v1h-1zM259 269h1v1h-1zM394 269h1v1h-1zM389 269h1v2h-1zM347 269h1v2h-1zM352 269h2v2h-2zM391 270h3v1h-3zM404 270h2v1h-2zM268 270h1v1h-1zM356 270h2v1h-2zM349 270h1v1h-1zM258 270h1v2h-1zM346 271h3v1h-3zM267 271h1v1h-1zM396 271h1v1h-1zM405 271h1v1h-1zM351 271h3v1h-3zM390 271h2v1h-2zM356 271h1v1h-1zM393 271h1v1h-1zM403 271h1v1h-1zM263 270h1v3h-1zM354 272h2v1h-2zM346 272h2v1h-2zM261 272h1v1h-1zM390 272h3v1h-3zM395 272h1v1h-1zM350 272h3v1h-3zM403 272h2v1h-2zM257 272h1v1h-1zM249 272h1v1h-1zM282 271h1v3h-1zM341 272h1v2h-1zM266 272h1v2h-1zM353 273h6v1h-6zM345 273h3v1h-3zM248 273h1v1h-1zM350 273h1v1h-1zM402 273h1v1h-1zM404 273h1v1h-1zM260 273h1v1h-1zM393 273h2v1h-2zM264 273h1v1h-1zM390 273h2v1h-2zM397 273h2v2h-2zM256 273h1v2h-1zM402 274h2v1h-2zM264 274h2v1h-2zM353 274h5v1h-5zM247 274h1v1h-1zM267 274h3v1h-3zM392 274h1v1h-1zM407 274h1v1h-1zM345 274h2v1h-2zM348 274h2v1h-2zM259 274h1v1h-1zM341 274h2v2h-2zM388 274h1v2h-1zM390 274h1v2h-1zM264 275h3v1h-3zM246 275h2v1h-2zM344 275h11v1h-11zM328 275h1v1h-1zM401 275h1v1h-1zM258 275h1v1h-1zM403 275h1v1h-1zM398 275h2v2h-2zM241 275h1v2h-1zM406 275h1v2h-1zM255 275h1v2h-1zM341 276h11v1h-11zM401 276h2v1h-2zM327 276h1v1h-1zM257 276h1v1h-1zM245 276h2v1h-2zM251 275h1v3h-1zM389 276h2v2h-2zM399 277h2v1h-2zM277 277h1v1h-1zM244 277h2v1h-2zM394 277h3v1h-3zM402 277h1v1h-1zM254 277h1v1h-1zM405 277h1v1h-1zM326 277h1v1h-1zM256 277h1v1h-1zM240 277h2v2h-2zM342 277h9v2h-9zM392 278h2v1h-2zM325 278h1v1h-1zM243 278h2v1h-2zM399 278h3v1h-3zM252 278h6v1h-6zM281 274h1v6h-1zM278 278h1v2h-1zM404 278h1v2h-1zM390 278h1v2h-1zM240 279h4v1h-4zM399 279h2v1h-2zM252 279h4v1h-4zM342 279h5v1h-5zM284 279h1v1h-1zM324 279h1v2h-1zM279 280h2v1h-2zM240 280h6v1h-6zM282 280h2v1h-2zM252 280h2v1h-2zM403 280h1v1h-1zM415 280h1v2h-1zM400 280h2v2h-2zM323 281h1v1h-1zM309 281h1v1h-1zM240 281h2v1h-2zM279 281h3v1h-3zM320 279h1v4h-1zM280 282h1v1h-1zM401 282h2v1h-2zM240 282h5v1h-5zM322 282h1v1h-1zM308 282h1v2h-1zM320 283h2v1h-2zM323 283h3v1h-3zM417 283h1v1h-1zM401 283h6v1h-6zM414 282h1v3h-1zM316 284h1v1h-1zM320 284h3v1h-3zM401 284h1v1h-1zM307 284h1v2h-1zM416 284h1v2h-1zM315 285h2v1h-2zM302 285h1v2h-1zM413 285h1v2h-1zM415 286h1v1h-1zM315 286h1v1h-1zM306 286h1v2h-1zM409 286h2v2h-2zM293 287h1v1h-1zM412 287h1v1h-1zM314 287h2v1h-2zM303 287h1v2h-1zM414 287h1v2h-1zM438 287h2v2h-2zM305 288h1v1h-1zM410 288h3v1h-3zM313 288h2v1h-2zM427 288h2v1h-2zM307 288h4v1h-4zM292 288h1v2h-1zM410 289h7v1h-7zM304 289h3v1h-3zM313 289h1v1h-1zM237 289h1v1h-1zM426 289h2v2h-2zM437 289h2v2h-2zM309 289h2v2h-2zM235 290h2v1h-2zM312 290h2v1h-2zM411 290h4v1h-4zM304 290h1v1h-1zM291 290h1v2h-1zM310 291h3v1h-3zM234 291h1v1h-1zM411 291h2v1h-2zM229 290h1v3h-1zM425 291h2v2h-2zM286 291h1v2h-1zM436 291h2v2h-2zM310 292h6v1h-6zM232 292h2v1h-2zM290 292h1v2h-1zM431 293h2v1h-2zM310 293h3v1h-3zM228 293h1v1h-1zM217 293h1v1h-1zM231 293h1v1h-1zM449 292h1v3h-1zM287 293h1v2h-1zM424 293h2v2h-2zM435 293h2v2h-2zM419 293h2v2h-2zM215 294h2v1h-2zM291 294h2v1h-2zM289 294h1v1h-1zM432 294h2v1h-2zM228 294h3v1h-3zM304 294h1v1h-1zM303 295h1v1h-1zM214 295h1v1h-1zM305 295h1v1h-1zM228 295h2v1h-2zM432 295h5v1h-5zM288 295h3v1h-3zM419 295h6v2h-6zM213 296h1v1h-1zM288 296h1v1h-1zM303 296h2v1h-2zM432 296h8v1h-8zM230 296h3v1h-3zM211 297h2v1h-2zM420 297h8v1h-8zM302 297h1v1h-1zM304 297h1v1h-1zM207 295h1v4h-1zM297 297h1v2h-1zM299 297h1v2h-1zM432 297h5v2h-5zM303 298h1v1h-1zM210 298h1v1h-1zM420 298h6v1h-6zM444 298h1v1h-1zM228 298h1v1h-1zM301 298h1v1h-1zM421 299h4v1h-4zM301 299h2v1h-2zM298 299h2v1h-2zM207 299h3v1h-3zM225 299h3v1h-3zM448 295h1v6h-1zM219 299h1v2h-1zM217 299h1v2h-1zM445 299h1v2h-1zM451 300h1v1h-1zM224 300h2v1h-2zM298 300h1v1h-1zM207 300h2v1h-2zM300 300h4v1h-4zM459 299h1v3h-1zM222 301h2v1h-2zM215 301h5v1h-5zM449 301h2v1h-2zM446 301h2v1h-2zM209 301h3v1h-3zM299 301h6v1h-6zM215 302h7v1h-7zM299 302h3v1h-3zM446 302h3v1h-3zM447 303h1v1h-1zM471 303h1v1h-1zM216 303h4v2h-4zM470 304h1v1h-1zM472 304h1v1h-1zM483 305h1v1h-1zM228 305h1v1h-1zM218 305h4v1h-4zM470 305h2v1h-2zM454 305h1v1h-1zM469 306h2v1h-2zM221 306h2v1h-2zM482 306h1v1h-1zM225 301h1v7h-1zM458 302h1v6h-1zM196 306h1v2h-1zM455 306h1v2h-1zM227 306h1v2h-1zM222 307h2v1h-2zM470 307h1v1h-1zM468 307h1v1h-1zM481 307h1v1h-1zM461 307h1v1h-1zM223 308h4v1h-4zM456 308h2v1h-2zM203 308h3v1h-3zM469 308h1v1h-1zM480 308h1v1h-1zM459 308h2v1h-2zM467 308h1v1h-1zM195 308h1v2h-1zM225 309h1v1h-1zM456 309h3v1h-3zM478 309h2v1h-2zM494 309h1v1h-1zM467 309h2v1h-2zM197 309h6v1h-6zM463 308h2v3h-2zM477 310h1v1h-1zM457 310h1v1h-1zM194 310h3v1h-3zM492 310h2v1h-2zM466 310h2v1h-2zM474 308h1v4h-1zM476 311h1v1h-1zM464 311h2v1h-2zM490 311h2v1h-2zM193 311h1v1h-1zM195 311h1v1h-1zM467 311h1v1h-1zM485 310h1v3h-1zM489 312h1v1h-1zM464 312h6v1h-6zM192 312h1v1h-1zM474 312h2v1h-2zM196 312h2v1h-2zM464 313h3v1h-3zM487 313h2v1h-2zM206 313h1v1h-1zM191 313h2v1h-2zM198 313h1v1h-1zM484 313h1v1h-1zM474 313h5v1h-5zM484 314h3v1h-3zM190 314h2v1h-2zM207 314h1v1h-1zM484 315h2v1h-2zM208 315h1v1h-1zM189 315h12v1h-12zM183 315h1v2h-1zM209 316h1v1h-1zM115 316h1v1h-1zM486 316h3v1h-3zM191 316h1v1h-1zM188 316h1v1h-1zM182 317h29v1h-29zM114 317h1v2h-1zM209 318h1v1h-1zM189 318h5v1h-5zM182 318h6v1h-6zM207 319h2v1h-2zM182 319h12v1h-12zM113 319h1v1h-1zM112 320h1v1h-1zM206 320h1v1h-1zM181 320h7v1h-7zM174 319h1v3h-1zM179 321h4v1h-4zM111 321h1v2h-1zM183 322h2v1h-2zM138 322h1v1h-1zM126 322h1v1h-1zM177 322h2v1h-2zM107 321h1v3h-1zM173 322h1v2h-1zM175 323h2v1h-2zM110 323h1v1h-1zM163 323h1v1h-1zM148 323h1v1h-1zM137 323h1v1h-1zM185 323h2v1h-2zM125 323h1v2h-1zM149 324h1v1h-1zM133 324h1v1h-1zM136 324h1v1h-1zM172 324h3v1h-3zM107 324h3v1h-3zM147 324h1v1h-1zM165 324h1v1h-1zM162 324h1v2h-1zM175 325h3v1h-3zM132 325h1v1h-1zM147 325h2v1h-2zM164 325h1v1h-1zM135 325h1v1h-1zM124 325h1v1h-1zM108 325h6v1h-6zM170 325h2v1h-2zM129 325h1v2h-1zM123 326h1v1h-1zM108 326h2v1h-2zM134 326h1v1h-1zM148 326h1v1h-1zM146 326h1v1h-1zM161 326h3v1h-3zM131 326h1v1h-1zM168 326h2v1h-2zM129 327h2v1h-2zM133 327h1v1h-1zM145 327h1v1h-1zM165 327h3v1h-3zM147 327h1v1h-1zM161 327h2v1h-2zM122 327h1v2h-1zM145 328h2v1h-2zM163 328h2v1h-2zM132 328h1v1h-1zM129 328h1v1h-1zM160 328h2v1h-2zM119 327h1v3h-1zM141 328h1v2h-1zM144 329h1v1h-1zM129 329h3v1h-3zM121 329h1v1h-1zM146 329h1v1h-1zM161 329h2v1h-2zM126 329h1v2h-1zM119 330h3v1h-3zM145 330h1v1h-1zM141 330h2v1h-2zM129 330h7v1h-7zM163 330h3v1h-3zM157 328h1v4h-1zM159 329h1v3h-1zM123 331h4v1h-4zM141 331h6v1h-6zM129 331h4v1h-4zM120 331h2v1h-2zM127 333h6v1h-6zM157 333h6v1h-6zM142 333h7v1h-7zM143 334h3v1h-3zM128 334h4v1h-4zM155 336h1v1h-1zM158 334h2v4h-2zM162 337h1v1h-1zM156 337h1v1h-1zM161 338h1v1h-1zM157 338h3v1h-3zM158 339h3v1h-3zM155 339h1v1h-1zM158 340h2v1h-2zM162 340h1v1h-1zM156 340h1v1h-1zM161 341h1v1h-1zM157 341h3v1h-3zM158 342h3v1h-3zM158 343h2v1h-2zM226 439h4v1h-4zM70 439h4v1h-4zM103 439h1v1h-1zM218 439h4v1h-4zM493 439h4v1h-4zM62 439h4v1h-4zM383 439h4v1h-4zM305 439h4v1h-4zM260 439h1v1h-1zM540 439h4v1h-4zM462 439h4v1h-4zM416 439h1v1h-1zM375 439h4v1h-4zM187 439h4v1h-4zM109 439h4v1h-4zM344 439h4v1h-4zM532 439h4v1h-4zM266 439h4v1h-4zM422 439h4v1h-4zM142 439h1v1h-1zM299 439h1v1h-1zM179 439h4v1h-4zM501 439h4v1h-4zM148 439h4v1h-4zM456 439h1v1h-1zM336 439h4v1h-4zM387 440h1v1h-1zM101 440h3v1h-3zM454 440h3v1h-3zM544 440h1v1h-1zM258 440h3v1h-3zM108 440h1v1h-1zM414 440h3v1h-3zM265 440h1v1h-1zM421 440h1v1h-1zM140 440h3v1h-3zM297 440h3v1h-3zM74 440h1v1h-1zM230 440h1v1h-1zM309 440h1v3h-1zM461 440h1v3h-1zM466 440h1v3h-1zM539 440h1v3h-1zM113 440h1v3h-1zM270 440h1v3h-1zM426 440h1v3h-1zM147 440h1v3h-1zM69 440h1v3h-1zM152 440h1v3h-1zM225 440h1v3h-1zM382 440h1v3h-1zM304 440h1v3h-1zM539 443h5v1h-5zM112 443h1v1h-1zM425 443h1v1h-1zM305 443h4v1h-4zM269 443h1v1h-1zM462 443h4v1h-4zM69 443h5v1h-5zM225 443h5v1h-5zM382 443h5v1h-5zM148 443h4v1h-4zM268 444h1v1h-1zM424 444h1v1h-1zM111 444h1v1h-1zM267 445h1v1h-1zM110 445h1v1h-1zM423 445h1v1h-1zM492 440h1v7h-1zM61 440h1v7h-1zM222 440h1v7h-1zM497 440h1v7h-1zM217 440h1v7h-1zM66 440h1v7h-1zM186 440h1v7h-1zM374 440h1v7h-1zM379 440h1v7h-1zM191 440h1v7h-1zM536 440h1v7h-1zM531 440h1v7h-1zM178 440h1v7h-1zM348 440h1v7h-1zM343 440h1v7h-1zM335 440h1v7h-1zM183 440h1v7h-1zM500 440h1v7h-1zM505 440h1v7h-1zM340 440h1v7h-1zM103 441h1v6h-1zM260 441h1v6h-1zM416 441h1v6h-1zM142 441h1v6h-1zM299 441h1v6h-1zM456 441h1v6h-1zM387 444h1v3h-1zM309 444h1v3h-1zM461 444h1v3h-1zM544 444h1v3h-1zM466 444h1v3h-1zM539 444h1v3h-1zM147 444h1v3h-1zM69 444h1v3h-1zM152 444h1v3h-1zM225 444h1v3h-1zM74 444h1v3h-1zM382 444h1v3h-1zM230 444h1v3h-1zM304 444h1v3h-1zM109 446h1v1h-1zM266 446h1v1h-1zM422 446h1v1h-1zM258 447h4v1h-4zM226 447h4v1h-4zM414 447h4v1h-4zM70 447h4v1h-4zM218 447h4v1h-4zM493 447h4v1h-4zM140 447h4v1h-4zM62 447h4v1h-4zM383 447h4v1h-4zM305 447h4v1h-4zM540 447h4v1h-4zM462 447h4v1h-4zM375 447h4v1h-4zM297 447h4v1h-4zM187 447h4v1h-4zM344 447h4v1h-4zM532 447h4v1h-4zM108 447h6v1h-6zM454 447h4v1h-4zM101 447h4v1h-4zM265 447h6v1h-6zM179 447h4v1h-4zM421 447h6v1h-6zM501 447h4v1h-4zM148 447h4v1h-4zM336 447h4v1h-4zM320 452h4v1h-4zM505 452h1v1h-1zM171 452h4v1h-4zM348 452h1v1h-1zM484 452h6v1h-6zM343 452h1v1h-1zM477 452h4v1h-4zM163 452h4v1h-4zM500 452h1v1h-1zM330 452h1v1h-1zM191 452h1v1h-1zM186 452h1v1h-1zM170 453h1v1h-1zM343 453h2v2h-2zM347 453h2v2h-2zM190 453h2v2h-2zM504 453h2v2h-2zM186 453h2v2h-2zM500 453h2v2h-2zM484 453h1v2h-1zM329 453h1v2h-1zM332 452h1v4h-1zM175 453h1v3h-1zM359 455h1v1h-1zM328 455h1v1h-1zM516 455h1v1h-1zM195 455h4v1h-4zM205 455h2v1h-2zM362 455h2v1h-2zM188 455h2v1h-2zM519 455h2v1h-2zM352 455h4v1h-4zM345 455h2v1h-2zM202 455h1v1h-1zM509 455h4v1h-4zM502 455h2v1h-2zM484 455h5v1h-5zM202 456h3v1h-3zM364 456h1v1h-1zM173 456h2v1h-2zM346 456h1v1h-1zM503 456h1v1h-1zM521 456h1v1h-1zM327 456h6v1h-6zM359 456h3v1h-3zM516 456h3v1h-3zM207 456h1v1h-1zM189 456h1v1h-1zM319 453h1v7h-1zM481 453h1v7h-1zM162 453h1v7h-1zM476 453h1v7h-1zM324 453h1v7h-1zM167 453h1v7h-1zM355 456h1v4h-1zM351 456h1v4h-1zM512 456h1v4h-1zM489 456h1v4h-1zM508 456h1v4h-1zM198 456h1v4h-1zM194 456h1v4h-1zM175 457h1v3h-1zM484 459h1v1h-1zM170 459h1v1h-1zM186 455h1v6h-1zM191 455h1v6h-1zM348 455h1v6h-1zM343 455h1v6h-1zM500 455h1v6h-1zM505 455h1v6h-1zM332 457h1v4h-1zM359 457h1v4h-1zM516 457h1v4h-1zM202 457h1v4h-1zM171 460h4v1h-4zM509 460h3v1h-3zM199 460h1v1h-1zM356 460h1v1h-1zM163 460h4v1h-4zM320 460h4v1h-4zM195 460h3v1h-3zM485 460h4v1h-4zM477 460h4v1h-4zM513 460h1v1h-1zM352 460h3v1h-3zM17 470h4v1h-4zM16 471h1v1h-1zM21 471h1v3h-1zM20 474h1v1h-1zM18 475h2v1h-2zM17 476h1v1h-1zM16 477h6v1h-6z"/>
<path fill="#00ffff" d="M248 52h4v1h-4zM247 53h5v3h-5zM247 56h4v1h-4zM258 57h5v4h-5zM199 63h4v1h-4zM192 63h4v1h-4zM236 61h4v4h-4zM204 61h4v4h-4zM192 64h5v3h-5zM198 64h5v3h-5zM270 64h4v4h-4zM198 67h4v1h-4zM193 67h4v1h-4zM215 67h4v2h-4zM215 69h5v2h-5zM182 69h4v4h-4zM216 71h4v2h-4zM227 72h4v1h-4zM159 71h4v4h-4zM281 71h4v4h-4zM225 73h6v3h-6zM225 76h4v1h-4zM292 75h4v4h-4zM158 75h4v4h-4zM170 80h4v4h-4zM164 81h4v4h-4zM137 86h4v1h-4zM147 87h4v2h-4zM136 87h5v3h-5zM147 89h5v2h-5zM136 90h4v1h-4zM148 91h4v2h-4zM303 90h9v4h-9zM132 91h4v4h-4zM114 91h4v4h-4zM370 94h5v4h-5zM359 98h4v2h-4zM125 98h4v4h-4zM381 98h5v4h-5zM358 100h5v2h-5zM314 102h4v1h-4zM358 102h4v2h-4zM353 103h4v1h-4zM314 103h5v3h-5zM347 104h10v3h-10zM315 106h4v1h-4zM347 107h9v1h-9zM392 106h5v4h-5zM327 108h4v4h-4zM425 113h4v1h-4zM414 112h5v4h-5zM425 114h5v3h-5zM403 114h7v4h-7zM426 117h4v1h-4zM436 125h5v4h-5zM481 128h4v4h-4zM448 129h4v4h-4zM458 133h4v4h-4zM469 133h5v4h-5zM493 135h4v3h-4z"/>
<path fill="#00ff00" d="M236 347h4v4h-4zM258 347h5v4h-5zM247 347h5v4h-5zM227 351h4v4h-4zM270 351h4v4h-4zM114 355h4v4h-4zM215 355h5v4h-5zM225 355h4v4h-4zM198 355h5v4h-5zM281 355h4v4h-4zM292 355h4v4h-4zM204 355h4v4h-4zM132 359h9v4h-9zM192 359h5v4h-5zM182 359h4v4h-4zM147 363h5v4h-5zM125 363h4v4h-4zM164 363h4v4h-4zM158 363h5v4h-5zM370 366h5v4h-5zM392 366h5v4h-5zM303 366h4v4h-4zM415 366h4v4h-4zM170 366h4v4h-4zM308 366h4v4h-4zM358 366h5v4h-5zM381 366h5v4h-5zM414 370h4v4h-4zM425 370h5v4h-5zM403 370h7v4h-7zM347 370h10v4h-10zM436 374h5v4h-5zM314 374h5v4h-5zM458 378h4v4h-4zM327 378h4v4h-4zM448 378h4v4h-4zM469 382h5v4h-5zM493 386h4v4h-4zM481 390h4v4h-4zM304 397h4v4h-4z"/>
</svg>
</body></html>
